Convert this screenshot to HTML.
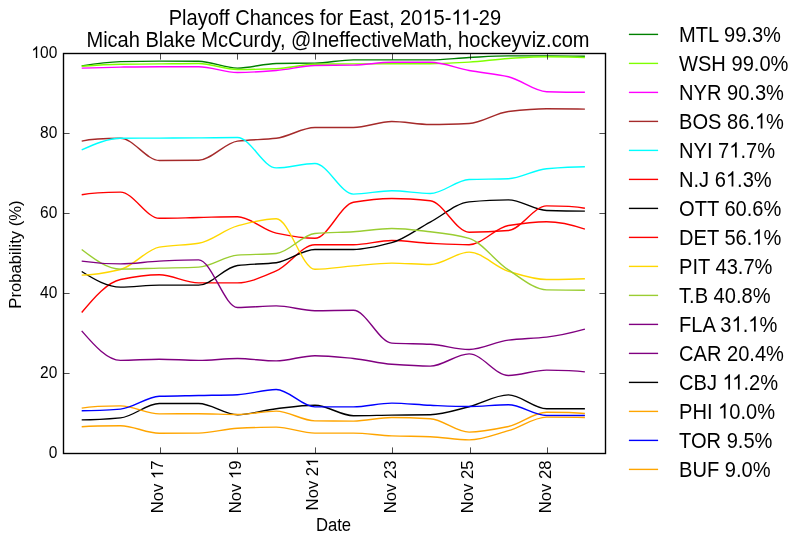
<!DOCTYPE html>
<html><head><meta charset="utf-8">
<style>
html,body{margin:0;padding:0;background:#fff;}
body{width:804px;height:543px;overflow:hidden;}
svg{display:block;}
text{font-family:"Liberation Sans",sans-serif;fill:#000;}
</style></head><body>
<svg width="804" height="543" viewBox="0 0 804 543">
<defs><mask id="full" maskUnits="userSpaceOnUse" maskContentUnits="userSpaceOnUse" x="0" y="0" width="804" height="543"><rect x="0" y="0" width="804" height="543" fill="#fff"></rect></mask><mask id="m0" maskUnits="userSpaceOnUse" maskContentUnits="userSpaceOnUse" x="0" y="0" width="804" height="543"><rect x="0" y="0" width="804" height="543" fill="#fff"></rect><g transform="translate(334.9,24.6) scale(1,1.06)"><rect x="87.75" y="-15.27" width="10.62" height="16.84" fill="#000"></rect><rect x="116.71" y="-15.27" width="10.62" height="16.84" fill="#000"></rect><rect x="126.39" y="-15.27" width="10.62" height="16.84" fill="#000"></rect></g></mask><mask id="m1" maskUnits="userSpaceOnUse" maskContentUnits="userSpaceOnUse" x="0" y="0" width="804" height="543"><rect x="0" y="0" width="804" height="543" fill="#fff"></rect><g transform="translate(57.3,58.1) scale(1,1.06)"><rect x="-25.64" y="-11.81" width="8.21" height="13.02" fill="#000"></rect></g></mask><mask id="m2" maskUnits="userSpaceOnUse" maskContentUnits="userSpaceOnUse" x="0" y="0" width="804" height="543"><rect x="0" y="0" width="804" height="543" fill="#fff"></rect><g transform="translate(163.1,460.5) rotate(-90) scale(1,1.0)"><rect x="-18.30" y="-12.70" width="8.83" height="14.00" fill="#000"></rect></g></mask><mask id="m3" maskUnits="userSpaceOnUse" maskContentUnits="userSpaceOnUse" x="0" y="0" width="804" height="543"><rect x="0" y="0" width="804" height="543" fill="#fff"></rect><g transform="translate(241.0,460.5) rotate(-90) scale(1,1.0)"><rect x="-18.30" y="-12.70" width="8.83" height="14.00" fill="#000"></rect></g></mask><mask id="m4" maskUnits="userSpaceOnUse" maskContentUnits="userSpaceOnUse" x="0" y="0" width="804" height="543"><rect x="0" y="0" width="804" height="543" fill="#fff"></rect><g transform="translate(318.1,457.6) rotate(-90) scale(1,1.0)"><rect x="-9.04" y="-12.70" width="8.83" height="14.00" fill="#000"></rect></g></mask><mask id="m5" maskUnits="userSpaceOnUse" maskContentUnits="userSpaceOnUse" x="0" y="0" width="804" height="543"><rect x="0" y="0" width="804" height="543" fill="#fff"></rect><g transform="translate(679.0,128.6) scale(1,1.06)"><rect x="76.23" y="-15.31" width="10.65" height="16.88" fill="#000"></rect></g></mask><mask id="m6" maskUnits="userSpaceOnUse" maskContentUnits="userSpaceOnUse" x="0" y="0" width="804" height="543"><rect x="0" y="0" width="804" height="543" fill="#fff"></rect><g transform="translate(679.0,157.6) scale(1,1.06)"><rect x="50.53" y="-15.31" width="10.65" height="16.88" fill="#000"></rect></g></mask><mask id="m7" maskUnits="userSpaceOnUse" maskContentUnits="userSpaceOnUse" x="0" y="0" width="804" height="543"><rect x="0" y="0" width="804" height="543" fill="#fff"></rect><g transform="translate(679.0,186.6) scale(1,1.06)"><rect x="47.18" y="-15.31" width="10.65" height="16.88" fill="#000"></rect></g></mask><mask id="m8" maskUnits="userSpaceOnUse" maskContentUnits="userSpaceOnUse" x="0" y="0" width="804" height="543"><rect x="0" y="0" width="804" height="543" fill="#fff"></rect><g transform="translate(679.0,244.6) scale(1,1.06)"><rect x="73.62" y="-15.31" width="10.65" height="16.88" fill="#000"></rect></g></mask><mask id="m9" maskUnits="userSpaceOnUse" maskContentUnits="userSpaceOnUse" x="0" y="0" width="804" height="543"><rect x="0" y="0" width="804" height="543" fill="#fff"></rect><g transform="translate(679.0,331.6) scale(1,1.06)"><rect x="52.78" y="-15.31" width="10.65" height="16.88" fill="#000"></rect><rect x="69.53" y="-15.31" width="10.65" height="16.88" fill="#000"></rect></g></mask><mask id="m10" maskUnits="userSpaceOnUse" maskContentUnits="userSpaceOnUse" x="0" y="0" width="804" height="543"><rect x="0" y="0" width="804" height="543" fill="#fff"></rect><g transform="translate(679.0,389.6) scale(1,1.06)"><rect x="43.83" y="-15.31" width="10.65" height="16.88" fill="#000"></rect><rect x="53.50" y="-15.31" width="10.65" height="16.88" fill="#000"></rect></g></mask><mask id="m11" maskUnits="userSpaceOnUse" maskContentUnits="userSpaceOnUse" x="0" y="0" width="804" height="543"><rect x="0" y="0" width="804" height="543" fill="#fff"></rect><g transform="translate(679.0,418.6) scale(1,1.06)"><rect x="39.36" y="-15.31" width="10.65" height="16.88" fill="#000"></rect></g></mask></defs>
<g mask="url(#full)">
<g font-size="20.05" text-anchor="middle">
<g mask="url(#m0)"><text transform="translate(334.9,24.6) scale(1,1.06)">Playoff Chances for East, 2015-11-29</text></g><g><path transform="translate(334.9,24.6) scale(1,1.06) translate(87.46,0.00) scale(0.009790,-0.009790)" d="M763 0L583 0L583 1147Q518 1085 412.5 1023Q307 961 223 930L223 1104Q374 1175 487 1276Q600 1377 647 1466L763 1466Z"></path><path transform="translate(334.9,24.6) scale(1,1.06) translate(116.42,0.00) scale(0.009790,-0.009790)" d="M763 0L583 0L583 1147Q518 1085 412.5 1023Q307 961 223 930L223 1104Q374 1175 487 1276Q600 1377 647 1466L763 1466Z"></path><path transform="translate(334.9,24.6) scale(1,1.06) translate(126.09,0.00) scale(0.009790,-0.009790)" d="M763 0L583 0L583 1147Q518 1085 412.5 1023Q307 961 223 930L223 1104Q374 1175 487 1276Q600 1377 647 1466L763 1466Z"></path></g>
<text transform="translate(338.0,46.5) scale(1,1.06)">Micah Blake McCurdy, @IneffectiveMath, hockeyviz.com</text>
</g>
<g font-size="15.5" text-anchor="end">
<text transform="translate(57.3,458.1) scale(1,1.06)">0</text>
<text transform="translate(57.3,378.1) scale(1,1.06)">20</text>
<text transform="translate(57.3,298.1) scale(1,1.06)">40</text>
<text transform="translate(57.3,218.1) scale(1,1.06)">60</text>
<text transform="translate(57.3,138.1) scale(1,1.06)">80</text>
<g mask="url(#m1)"><text transform="translate(57.3,58.1) scale(1,1.06)">100</text></g><g><path transform="translate(57.3,58.1) scale(1,1.06) translate(-25.87,0.00) scale(0.007568,-0.007568)" d="M763 0L583 0L583 1147Q518 1085 412.5 1023Q307 961 223 930L223 1104Q374 1175 487 1276Q600 1377 647 1466L763 1466Z"></path></g>
</g>
<g font-size="16.67" text-anchor="end">
<g mask="url(#m2)"><text transform="translate(163.1,460.5) rotate(-90) scale(1,1.0)">Nov 17</text></g><g><path transform="translate(163.1,460.5) rotate(-90) scale(1,1.0) translate(-18.55,0.00) scale(0.008140,-0.008140)" d="M763 0L583 0L583 1147Q518 1085 412.5 1023Q307 961 223 930L223 1104Q374 1175 487 1276Q600 1377 647 1466L763 1466Z"></path></g>
<g mask="url(#m3)"><text transform="translate(241.0,460.5) rotate(-90) scale(1,1.0)">Nov 19</text></g><g><path transform="translate(241.0,460.5) rotate(-90) scale(1,1.0) translate(-18.55,0.00) scale(0.008140,-0.008140)" d="M763 0L583 0L583 1147Q518 1085 412.5 1023Q307 961 223 930L223 1104Q374 1175 487 1276Q600 1377 647 1466L763 1466Z"></path></g>
<g mask="url(#m4)"><text transform="translate(318.1,457.6) rotate(-90) scale(1,1.0)">Nov 21</text></g><g><path transform="translate(318.1,457.6) rotate(-90) scale(1,1.0) translate(-9.28,0.00) scale(0.008140,-0.008140)" d="M763 0L583 0L583 1147Q518 1085 412.5 1023Q307 961 223 930L223 1104Q374 1175 487 1276Q600 1377 647 1466L763 1466Z"></path></g>
<text transform="translate(396.0,460.5) rotate(-90) scale(1,1.0)">Nov 23</text>
<text transform="translate(473.1,460.5) rotate(-90) scale(1,1.0)">Nov 25</text>
<text transform="translate(551.0,460.5) rotate(-90) scale(1,1.0)">Nov 28</text>
</g>
<text transform="translate(333.5,531.2) scale(1,1.06)" font-size="16.67" text-anchor="middle">Date</text>
<text transform="translate(21.0,254.5) rotate(-90) scale(1,1.03)" font-size="16.67" text-anchor="middle">Probability (%)</text>
<g fill="none" stroke-width="1.39" stroke-linejoin="round" stroke-linecap="butt">
<path stroke="#008000" d="M81.70 65.90C94.63 63.87 107.57 61.99 120.50 61.66C133.43 61.33 146.37 61.10 159.30 61.10C172.40 61.10 185.50 61.17 198.60 61.30C211.57 61.43 224.53 68.10 237.50 68.10C250.40 68.10 263.30 63.75 276.20 63.50C289.10 63.25 302.00 63.34 314.90 63.10C327.73 62.86 340.57 59.90 353.40 59.90C366.20 59.90 379.00 59.90 391.80 59.90C404.60 59.90 417.40 59.90 430.20 59.90C443.17 59.90 456.13 58.14 469.10 57.50C482.20 56.86 495.30 55.90 508.40 55.90C521.13 55.90 533.87 55.90 546.60 55.90C559.37 55.90 572.13 56.10 584.90 56.30"></path>
<path stroke="#7fff00" d="M81.70 66.30C94.63 65.37 107.57 64.52 120.50 64.30C133.43 64.08 146.37 64.03 159.30 63.90C172.40 63.77 185.50 63.50 198.60 63.50C211.57 63.50 224.53 69.50 237.50 69.50C250.40 69.50 263.30 69.15 276.20 68.70C289.10 68.25 302.00 64.55 314.90 64.30C327.73 64.06 340.57 63.99 353.40 63.90C366.20 63.81 379.00 63.70 391.80 63.70C404.60 63.70 417.40 63.70 430.20 63.70C443.17 63.70 456.13 62.84 469.10 62.10C482.20 61.36 495.30 59.31 508.40 58.50C521.13 57.71 533.87 56.70 546.60 56.70C559.37 56.70 572.13 56.80 584.90 57.50"></path>
<path stroke="#ff00ff" d="M81.70 68.10C94.63 67.67 107.57 67.29 120.50 67.10C133.43 66.91 146.37 66.70 159.30 66.70C172.40 66.70 185.50 66.70 198.60 66.70C211.57 66.70 224.53 72.50 237.50 72.50C250.40 72.50 263.30 71.45 276.20 70.50C289.10 69.55 302.00 65.75 314.90 65.50C327.73 65.25 340.57 65.33 353.40 65.10C366.20 64.87 379.00 62.30 391.80 62.30C404.60 62.30 417.40 62.30 430.20 62.30C443.17 62.30 456.13 68.16 469.10 70.50C482.20 72.86 495.30 73.75 508.40 76.70C521.13 79.57 533.87 91.32 546.60 91.70C559.37 92.08 572.13 92.30 584.90 92.30"></path>
<path stroke="#a52a2a" d="M81.70 141.10C94.63 138.30 107.57 138.30 120.50 138.30C133.43 138.30 146.37 160.50 159.30 160.50C172.40 160.50 185.50 160.43 198.60 160.30C211.57 160.17 224.53 142.74 237.50 141.10C250.40 139.47 263.30 139.78 276.20 138.30C289.10 136.82 302.00 127.50 314.90 127.50C327.73 127.50 340.57 127.50 353.40 127.50C366.20 127.50 379.00 121.50 391.80 121.50C404.60 121.50 417.40 124.50 430.20 124.50C443.17 124.50 456.13 124.11 469.10 123.50C482.20 122.88 495.30 113.04 508.40 111.50C521.13 110.00 533.87 108.70 546.60 108.70C559.37 108.70 572.13 108.70 584.90 109.10"></path>
<path stroke="#00ffff" d="M81.70 149.90C94.63 144.13 107.57 138.43 120.50 138.30C133.43 138.17 146.37 138.17 159.30 138.10C172.40 138.03 185.50 137.99 198.60 137.90C211.57 137.81 224.53 137.50 237.50 137.50C250.40 137.50 263.30 167.90 276.20 167.90C289.10 167.90 302.00 163.50 314.90 163.50C327.73 163.50 340.57 194.10 353.40 194.10C366.20 194.10 379.00 190.70 391.80 190.70C404.60 190.70 417.40 193.50 430.20 193.50C443.17 193.50 456.13 180.00 469.10 179.50C482.20 178.99 495.30 179.20 508.40 178.70C521.13 178.22 533.87 169.81 546.60 168.70C559.37 167.59 572.13 166.70 584.90 166.70"></path>
<path stroke="#ff0000" d="M81.70 312.50C94.63 296.80 107.57 282.29 120.50 279.50C133.43 276.71 146.37 274.70 159.30 274.70C172.40 274.70 185.50 282.90 198.60 282.90C211.57 282.90 224.53 282.90 237.50 282.90C250.40 282.90 263.30 276.39 276.20 270.90C289.10 265.41 302.00 244.70 314.90 244.70C327.73 244.70 340.57 244.70 353.40 244.70C366.20 244.70 379.00 240.50 391.80 240.50C404.60 240.50 417.40 242.68 430.20 243.30C443.17 243.93 456.13 244.70 469.10 244.70C482.20 244.70 495.30 227.66 508.40 225.50C521.13 223.40 533.87 221.70 546.60 221.70C559.37 221.70 572.13 224.76 584.90 229.10"></path>
<path stroke="#000000" d="M81.70 271.50C94.63 279.63 107.57 287.10 120.50 287.10C133.43 287.10 146.37 285.10 159.30 285.10C172.40 285.10 185.50 285.10 198.60 285.10C211.57 285.10 224.53 267.14 237.50 265.50C250.40 263.87 263.30 264.24 276.20 262.70C289.10 261.16 302.00 249.50 314.90 249.50C327.73 249.50 340.57 249.50 353.40 249.50C366.20 249.50 379.00 246.11 391.80 242.70C404.60 239.29 417.40 228.86 430.20 222.10C443.17 215.26 456.13 203.10 469.10 201.90C482.20 200.68 495.30 199.90 508.40 199.90C521.13 199.90 533.87 210.12 546.60 210.50C559.37 210.88 572.13 211.10 584.90 211.10"></path>
<path stroke="#ff0000" d="M81.70 194.70C94.63 192.10 107.57 192.10 120.50 192.10C133.43 192.10 146.37 218.30 159.30 218.30C172.40 218.30 185.50 217.77 198.60 217.50C211.57 217.23 224.53 216.70 237.50 216.70C250.40 216.70 263.30 230.47 276.20 233.10C289.10 235.73 302.00 238.30 314.90 238.30C327.73 238.30 340.57 204.60 353.40 202.30C366.20 200.01 379.00 198.50 391.80 198.50C404.60 198.50 417.40 199.33 430.20 200.70C443.17 202.09 456.13 232.30 469.10 232.30C482.20 232.30 495.30 231.62 508.40 230.50C521.13 229.41 533.87 205.90 546.60 205.90C559.37 205.90 572.13 205.90 584.90 208.30"></path>
<path stroke="#ffd700" d="M81.70 275.10C94.63 275.10 107.57 272.49 120.50 269.50C133.43 266.51 146.37 249.25 159.30 247.10C172.40 244.93 185.50 245.39 198.60 243.30C211.57 241.24 224.53 229.31 237.50 225.90C250.40 222.51 263.30 218.70 276.20 218.70C289.10 218.70 302.00 269.30 314.90 269.30C327.73 269.30 340.57 266.93 353.40 265.90C366.20 264.88 379.00 263.10 391.80 263.10C404.60 263.10 417.40 264.50 430.20 264.50C443.17 264.50 456.13 252.10 469.10 252.10C482.20 252.10 495.30 267.40 508.40 271.30C521.13 275.09 533.87 279.50 546.60 279.50C559.37 279.50 572.13 279.50 584.90 278.70"></path>
<path stroke="#9acd32" d="M81.70 249.50C94.63 259.47 107.57 269.10 120.50 269.10C133.43 269.10 146.37 268.43 159.30 268.10C172.40 267.76 185.50 267.72 198.60 267.10C211.57 266.49 224.53 256.04 237.50 255.10C250.40 254.16 263.30 254.49 276.20 253.50C289.10 252.51 302.00 234.61 314.90 233.50C327.73 232.40 340.57 232.47 353.40 231.70C366.20 230.93 379.00 228.50 391.80 228.50C404.60 228.50 417.40 230.27 430.20 231.70C443.17 233.15 456.13 234.67 469.10 238.30C482.20 241.97 495.30 261.60 508.40 269.90C521.13 277.97 533.87 289.64 546.60 289.90C559.37 290.16 572.13 290.30 584.90 290.30"></path>
<path stroke="#800080" d="M81.70 261.10C94.63 262.97 107.57 263.90 120.50 263.90C133.43 263.90 146.37 261.66 159.30 261.10C172.40 260.54 185.50 259.90 198.60 259.90C211.57 259.90 224.53 307.50 237.50 307.50C250.40 307.50 263.30 305.90 276.20 305.90C289.10 305.90 302.00 310.70 314.90 310.70C327.73 310.70 340.57 310.30 353.40 310.30C366.20 310.30 379.00 342.33 391.80 343.10C404.60 343.87 417.40 343.65 430.20 344.30C443.17 344.96 456.13 349.50 469.10 349.50C482.20 349.50 495.30 341.65 508.40 340.10C521.13 338.60 533.87 338.55 546.60 337.10C559.37 335.64 572.13 332.60 584.90 329.10"></path>
<path stroke="#800080" d="M81.70 330.90C94.63 345.84 107.57 360.38 120.50 360.38C133.43 360.38 146.37 359.18 159.30 359.18C172.40 359.18 185.50 360.38 198.60 360.38C211.57 360.38 224.53 358.50 237.50 358.50C250.40 358.50 263.30 360.90 276.20 360.90C289.10 360.90 302.00 355.70 314.90 355.70C327.73 355.70 340.57 357.24 353.40 358.50C366.20 359.76 379.00 363.38 391.80 364.30C404.60 365.22 417.40 366.10 430.20 366.10C443.17 366.10 456.13 353.90 469.10 353.90C482.20 353.90 495.30 375.50 508.40 375.50C521.13 375.50 533.87 370.10 546.60 370.10C559.37 370.10 572.13 370.10 584.90 371.90"></path>
<path stroke="#000000" d="M81.70 419.90C94.63 419.90 107.57 419.07 120.50 417.90C133.43 416.73 146.37 403.50 159.30 403.50C172.40 403.50 185.50 403.50 198.60 403.50C211.57 403.50 224.53 414.70 237.50 414.70C250.40 414.70 263.30 410.15 276.20 408.70C289.10 407.25 302.00 405.30 314.90 405.30C327.73 405.30 340.57 415.70 353.40 415.70C366.20 415.70 379.00 415.26 391.80 415.10C404.60 414.94 417.40 414.95 430.20 414.70C443.17 414.44 456.13 409.86 469.10 406.70C482.20 403.50 495.30 394.90 508.40 394.90C521.13 394.90 533.87 408.70 546.60 408.70C559.37 408.70 572.13 408.70 584.90 408.70"></path>
<path stroke="#ffa500" d="M81.70 408.10C94.63 405.90 107.57 405.90 120.50 405.90C133.43 405.90 146.37 413.90 159.30 413.90C172.40 413.90 185.50 413.70 198.60 413.70C211.57 413.70 224.53 414.50 237.50 414.50C250.40 414.50 263.30 411.10 276.20 411.10C289.10 411.10 302.00 420.77 314.90 420.90C327.73 421.03 340.57 421.10 353.40 421.10C366.20 421.10 379.00 417.50 391.80 417.50C404.60 417.50 417.40 417.97 430.20 418.70C443.17 419.44 456.13 432.10 469.10 432.10C482.20 432.10 495.30 429.20 508.40 426.50C521.13 423.87 533.87 412.30 546.60 412.30C559.37 412.30 572.13 412.30 584.90 413.50"></path>
<path stroke="#0000ff" d="M81.70 410.70C94.63 410.70 107.57 410.05 120.50 409.10C133.43 408.15 146.37 396.80 159.30 396.30C172.40 395.80 185.50 395.77 198.60 395.50C211.57 395.23 224.53 395.16 237.50 394.70C250.40 394.24 263.30 389.50 276.20 389.50C289.10 389.50 302.00 406.90 314.90 406.90C327.73 406.90 340.57 406.90 353.40 406.90C366.20 406.90 379.00 403.10 391.80 403.10C404.60 403.10 417.40 404.79 430.20 405.30C443.17 405.82 456.13 406.50 469.10 406.50C482.20 406.50 495.30 404.70 508.40 404.70C521.13 404.70 533.87 415.50 546.60 415.50C559.37 415.50 572.13 415.50 584.90 415.50"></path>
<path stroke="#ffa500" d="M81.70 426.70C94.63 425.70 107.57 425.70 120.50 425.70C133.43 425.70 146.37 433.30 159.30 433.30C172.40 433.30 185.50 433.23 198.60 433.10C211.57 432.97 224.53 428.94 237.50 428.30C250.40 427.66 263.30 427.10 276.20 427.10C289.10 427.10 302.00 433.10 314.90 433.10C327.73 433.10 340.57 433.10 353.40 433.10C366.20 433.10 379.00 435.49 391.80 435.90C404.60 436.31 417.40 436.27 430.20 436.70C443.17 437.13 456.13 439.90 469.10 439.90C482.20 439.90 495.30 434.40 508.40 430.70C521.13 427.10 533.87 417.10 546.60 417.10C559.37 417.10 572.13 417.10 584.90 417.50"></path>
</g>
<g stroke="#000" stroke-width="0.7" fill="none">
<path d="M160.5 453.5V447.4M160.5 53.5V59.6M237.5 453.5V447.4M237.5 53.5V59.6M315.5 453.5V447.4M315.5 53.5V59.6M392.5 453.5V447.4M392.5 53.5V59.6M470.5 453.5V447.4M470.5 53.5V59.6M547.5 453.5V447.4M547.5 53.5V59.6M63.5 373.5H69.6M605.5 373.5H599.4M63.5 293.5H69.6M605.5 293.5H599.4M63.5 213.5H69.6M605.5 213.5H599.4M63.5 133.5H69.6M605.5 133.5H599.4"></path>
</g>
<rect x="63.5" y="53.5" width="542.0" height="400.0" fill="none" stroke="#000" stroke-width="1.39"></rect>
<g font-size="20.1">
<path d="M628.9 34.4H658.1" stroke="#008000" stroke-width="1.39"></path>
<text transform="translate(679.0,41.6) scale(1,1.06)">MTL 99.3%</text>
<path d="M628.9 63.4H658.1" stroke="#7fff00" stroke-width="1.39"></path>
<text transform="translate(679.0,70.6) scale(1,1.06)">WSH 99.0%</text>
<path d="M628.9 92.4H658.1" stroke="#ff00ff" stroke-width="1.39"></path>
<text transform="translate(679.0,99.6) scale(1,1.06)">NYR 90.3%</text>
<path d="M628.9 121.4H658.1" stroke="#a52a2a" stroke-width="1.39"></path>
<g mask="url(#m5)"><text transform="translate(679.0,128.6) scale(1,1.06)">BOS 86.1%</text></g><g><path transform="translate(679.0,128.6) scale(1,1.06) translate(75.94,0.00) scale(0.009814,-0.009814)" d="M763 0L583 0L583 1147Q518 1085 412.5 1023Q307 961 223 930L223 1104Q374 1175 487 1276Q600 1377 647 1466L763 1466Z"></path></g>
<path d="M628.9 150.4H658.1" stroke="#00ffff" stroke-width="1.39"></path>
<g mask="url(#m6)"><text transform="translate(679.0,157.6) scale(1,1.06)">NYI 71.7%</text></g><g><path transform="translate(679.0,157.6) scale(1,1.06) translate(50.24,0.00) scale(0.009814,-0.009814)" d="M763 0L583 0L583 1147Q518 1085 412.5 1023Q307 961 223 930L223 1104Q374 1175 487 1276Q600 1377 647 1466L763 1466Z"></path></g>
<path d="M628.9 179.4H658.1" stroke="#ff0000" stroke-width="1.39"></path>
<g mask="url(#m7)"><text transform="translate(679.0,186.6) scale(1,1.06)">N.J 61.3%</text></g><g><path transform="translate(679.0,186.6) scale(1,1.06) translate(46.89,0.00) scale(0.009814,-0.009814)" d="M763 0L583 0L583 1147Q518 1085 412.5 1023Q307 961 223 930L223 1104Q374 1175 487 1276Q600 1377 647 1466L763 1466Z"></path></g>
<path d="M628.9 208.4H658.1" stroke="#000000" stroke-width="1.39"></path>
<text transform="translate(679.0,215.6) scale(1,1.06)">OTT 60.6%</text>
<path d="M628.9 237.4H658.1" stroke="#ff0000" stroke-width="1.39"></path>
<g mask="url(#m8)"><text transform="translate(679.0,244.6) scale(1,1.06)">DET 56.1%</text></g><g><path transform="translate(679.0,244.6) scale(1,1.06) translate(73.33,0.00) scale(0.009814,-0.009814)" d="M763 0L583 0L583 1147Q518 1085 412.5 1023Q307 961 223 930L223 1104Q374 1175 487 1276Q600 1377 647 1466L763 1466Z"></path></g>
<path d="M628.9 266.4H658.1" stroke="#ffd700" stroke-width="1.39"></path>
<text transform="translate(679.0,273.6) scale(1,1.06)">PIT 43.7%</text>
<path d="M628.9 295.4H658.1" stroke="#9acd32" stroke-width="1.39"></path>
<text transform="translate(679.0,302.6) scale(1,1.06)">T.B 40.8%</text>
<path d="M628.9 324.4H658.1" stroke="#800080" stroke-width="1.39"></path>
<g mask="url(#m9)"><text transform="translate(679.0,331.6) scale(1,1.06)">FLA 31.1%</text></g><g><path transform="translate(679.0,331.6) scale(1,1.06) translate(52.48,0.00) scale(0.009814,-0.009814)" d="M763 0L583 0L583 1147Q518 1085 412.5 1023Q307 961 223 930L223 1104Q374 1175 487 1276Q600 1377 647 1466L763 1466Z"></path><path transform="translate(679.0,331.6) scale(1,1.06) translate(69.24,0.00) scale(0.009814,-0.009814)" d="M763 0L583 0L583 1147Q518 1085 412.5 1023Q307 961 223 930L223 1104Q374 1175 487 1276Q600 1377 647 1466L763 1466Z"></path></g>
<path d="M628.9 353.4H658.1" stroke="#800080" stroke-width="1.39"></path>
<text transform="translate(679.0,360.6) scale(1,1.06)">CAR 20.4%</text>
<path d="M628.9 382.4H658.1" stroke="#000000" stroke-width="1.39"></path>
<g mask="url(#m10)"><text transform="translate(679.0,389.6) scale(1,1.06)">CBJ 11.2%</text></g><g><path transform="translate(679.0,389.6) scale(1,1.06) translate(43.53,0.00) scale(0.009814,-0.009814)" d="M763 0L583 0L583 1147Q518 1085 412.5 1023Q307 961 223 930L223 1104Q374 1175 487 1276Q600 1377 647 1466L763 1466Z"></path><path transform="translate(679.0,389.6) scale(1,1.06) translate(53.21,0.00) scale(0.009814,-0.009814)" d="M763 0L583 0L583 1147Q518 1085 412.5 1023Q307 961 223 930L223 1104Q374 1175 487 1276Q600 1377 647 1466L763 1466Z"></path></g>
<path d="M628.9 411.4H658.1" stroke="#ffa500" stroke-width="1.39"></path>
<g mask="url(#m11)"><text transform="translate(679.0,418.6) scale(1,1.06)">PHI 10.0%</text></g><g><path transform="translate(679.0,418.6) scale(1,1.06) translate(39.06,0.00) scale(0.009814,-0.009814)" d="M763 0L583 0L583 1147Q518 1085 412.5 1023Q307 961 223 930L223 1104Q374 1175 487 1276Q600 1377 647 1466L763 1466Z"></path></g>
<path d="M628.9 440.4H658.1" stroke="#0000ff" stroke-width="1.39"></path>
<text transform="translate(679.0,447.6) scale(1,1.06)">TOR 9.5%</text>
<path d="M628.9 469.4H658.1" stroke="#ffa500" stroke-width="1.39"></path>
<text transform="translate(679.0,476.6) scale(1,1.06)">BUF 9.0%</text>
</g>
</g>
</svg>

</body></html>
